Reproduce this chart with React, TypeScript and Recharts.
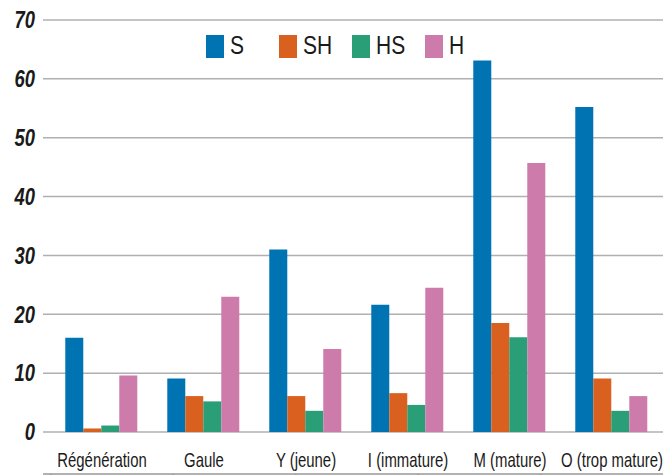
import React from 'react';
import { BarChart, Bar, XAxis, YAxis, CartesianGrid, Legend } from 'recharts';

// Colors (Okabe-Ito style)
const COLORS = {
  S: '#0073B3',
  SH: '#D9601F',
  HS: '#2A9E77',
  H: '#CD7BAA',
};

const FONT = '"Liberation Sans", Arial, sans-serif';
const TEXT = '#1a1a1a';

const categories = ['Régénération', 'Gaule', 'Y (jeune)', 'I (immature)', 'M (mature)', 'O (trop mature)'];
const sValues = [16, 9.1, 31, 21.6, 63.1, 55.2];
const shValues = [0.6, 6.1, 6.1, 6.6, 18.5, 9.1];
const hsValues = [1.1, 5.2, 3.6, 4.6, 16.1, 3.6];
const hValues = [9.6, 23, 14.1, 24.5, 45.7, 6.1];
const yTicks = [0, 10, 20, 30, 40, 50, 60, 70];
const boundaryTicks = [0, 1, 2, 3, 4, 5, 6];

const series = [
  { key: 'S', color: COLORS.S },
  { key: 'SH', color: COLORS.SH },
  { key: 'HS', color: COLORS.HS },
  { key: 'H', color: COLORS.H },
];

const data = categories.map((name, i) => ({
  name,
  S: sValues[i],
  SH: shValues[i],
  HS: hsValues[i],
  H: hValues[i],
}));

// condensed look: regular fonts squeezed horizontally
const XTick = ({ x, y, payload }: any) => (
  <g transform={`translate(${x},${y}) scale(0.71,1)`}>
    <text x={0} y={0} dy={35} textAnchor="middle" fontFamily={FONT} fontSize={21} fill={TEXT}>
      {payload.value}
    </text>
  </g>
);

const YTick = ({ x, y, payload }: any) => (
  <g transform={`translate(${x},${y}) scale(0.8,1)`}>
    <text
      x={0}
      y={0}
      dy="0.36em"
      textAnchor="end"
      fontFamily={FONT}
      fontSize={23}
      fontWeight="bold"
      fontStyle="italic"
      fill={TEXT}
    >
      {payload.value}
    </text>
  </g>
);

const LegendContent = ({ payload }: any) => {
  const colorOf = (key: string) => (payload || []).find((p: any) => p.value === key)?.color;
  return (
    <div style={{ display: 'flex', fontFamily: FONT }}>
      {series.map((s) => (
        <div key={s.key} style={{ width: 73, display: 'flex', alignItems: 'flex-start', height: 23 }}>
          <span style={{ width: 18, height: 23, background: colorOf(s.key) || s.color, display: 'inline-block' }} />
          <span
            style={{
              marginLeft: 6,
              fontSize: 25,
              color: TEXT,
              lineHeight: '23px',
              marginTop: -1,
              display: 'inline-block',
              transform: 'scaleX(0.84)',
              transformOrigin: 'left center',
            }}
          >
            {s.key}
          </span>
        </div>
      ))}
    </div>
  );
};

export default function App() {
  return (
    <div style={{ position: 'absolute', left: 0, top: 0, background: '#fff' }}>
      <BarChart
        width={663}
        height={475}
        data={data}
        margin={{ top: 20, right: 0, bottom: 0, left: 0 }}
        barCategoryGap="14%"
        barGap={0}
      >
        <CartesianGrid vertical={false} stroke="#b0b0b0" strokeWidth={1.5} />
        <XAxis
          xAxisId="ticks"
          type="number"
          domain={[0, 6]}
          ticks={boundaryTicks}
          tick={() => <g />}
          axisLine={{ stroke: '#999999', strokeWidth: 1.5 }}
          tickLine={{ stroke: '#999999', strokeWidth: 1.5 }}
          tickSize={6}
          height={1}
          padding={{ left: 8, right: 0 }}
          allowDataOverflow
        />
        <XAxis
          dataKey="name"
          height={42}
          padding={{ left: 8, right: 0 }}
          axisLine={false}
          tickLine={false}
          tickSize={0}
          tickMargin={0}
          interval={0}
          tick={<XTick />}
        />
        <YAxis
          width={43}
          domain={[0, 70]}
          ticks={yTicks}
          axisLine={false}
          tickLine={false}
          tick={<YTick />}
        />
        <Legend
          verticalAlign="middle"
          layout="horizontal"
          content={<LegendContent />}
          wrapperStyle={{ position: 'absolute', left: 206, top: 35, width: 300, height: 23 }}
        />
        {series.map((s) => (
          <Bar key={s.key} dataKey={s.key} fill={s.color} isAnimationActive={false} />
        ))}
      </BarChart>
    </div>
  );
}
